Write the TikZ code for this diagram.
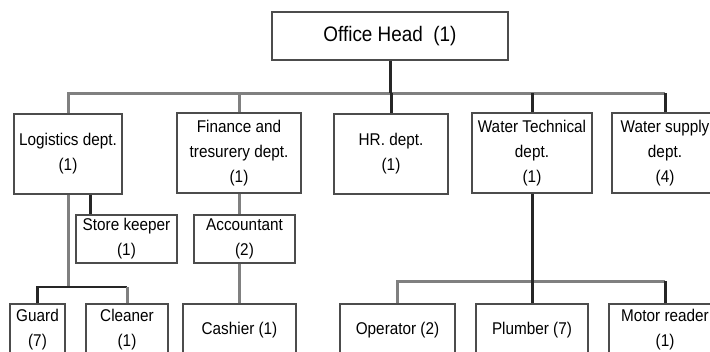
\documentclass[tikz,border=0pt]{standalone}
\usepackage{fontspec}
\setmainfont{Liberation Sans}
\newfontfamily\boxfont[FakeStretch=0.9]{Liberation Sans}
\usetikzlibrary{shadows}
\begin{document}
\begin{tikzpicture}[x=1pt,y=-1pt,
  box/.style={draw=black!70, line width=1.2pt, fill=white, align=center, inner sep=0pt,
    font=\boxfont\fontsize{17}{25}\selectfont,
    general shadow={fill=black, shadow xshift=1pt, shadow yshift=-1pt}},
  conn/.style={draw=black!50, line width=3pt},
  connb/.style={draw=black!85, line width=3pt}]
\useasboundingbox (0,0) rectangle (710,351);
\clip (0,0) rectangle (710,351);
\fill[white] (0,0) rectangle (710,351);
% coordinates for bars
\coordinate (b1) at (0,93);
\coordinate (b2) at (0,287);
\coordinate (b3) at (0,281);
\coordinate (sk) at (90,0);
% boxes
\node[box, minimum width=236pt, minimum height=48pt, font=\boxfont\fontsize{21}{24}\selectfont] (head) at (390,36) {Office Head\ \ (1)};
\node[box, minimum width=108pt, minimum height=80pt] (log) at (68,154) {Logistics dept.\\(1)};
\node[box, minimum width=124pt, minimum height=80pt] (fin) at (239,153) {Finance and\\tresurery dept.\\(1)};
\node[box, minimum width=114pt, minimum height=80pt] (hr) at (391,154) {HR. dept.\\(1)};
\node[box, minimum width=120pt, minimum height=80pt] (wt) at (532,153) {Water Technical\\dept.\\(1)};
\node[box, minimum width=106pt, minimum height=80pt] (ws) at (665,153) {Water supply\\dept.\\(4)};
\node[box, minimum width=101pt, minimum height=48pt] (store) at (126.5,239) {Store keeper\\(1)};
\node[box, minimum width=101pt, minimum height=48pt] (acc) at (244.5,239) {Accountant\\(2)};
\node[box, minimum width=55pt, minimum height=52pt] (guard) at (37.5,330) {Guard\\(7)};
\node[box, minimum width=82pt, minimum height=52pt] (clean) at (127,330) {Cleaner\\(1)};
\node[box, minimum width=113pt, minimum height=52pt] (cash) at (239.5,330) {Cashier (1)};
\node[box, minimum width=115pt, minimum height=52pt] (op) at (397.5,330) {Operator (2)};
\node[box, minimum width=112pt, minimum height=52pt] (plumb) at (532,330) {Plumber (7)};
\node[box, minimum width=112pt, minimum height=52pt] (motor) at (665,330) {Motor reader\\(1)};
% top level connectors
\draw[conn] (log.north) |- (ws.north |- b1);
\draw[conn] (fin.north) -- (fin.north |- b1);
\draw[connb] (hr.north) -- (hr.north |- b1);
\draw[connb] (wt.north) -- (wt.north |- b1);
\draw[connb] (ws.north) -- (ws.north |- b1);
\draw[connb] (head.south) -- (head.south |- b1);
% logistics
\draw[connb] (log.south -| sk) -- (store.north -| sk);
\draw[conn] (log.south) -- (log.south |- b2);
\draw[connb, line width=2.5pt] (guard.north) |- (clean.north |- b2);
\draw[conn] (clean.north) -- (clean.north |- b2);
% finance
\draw[conn] (fin.south) -- (fin.south |- acc.north);
\draw[conn] (cash.north |- acc.south) -- (cash.north);
% water technical
\draw[conn] (op.north) |- (motor.north |- b3);
\draw[connb] (motor.north) -- (motor.north |- b3);
\draw[connb] (wt.south) -- (plumb.north);
\end{tikzpicture}
\end{document}
